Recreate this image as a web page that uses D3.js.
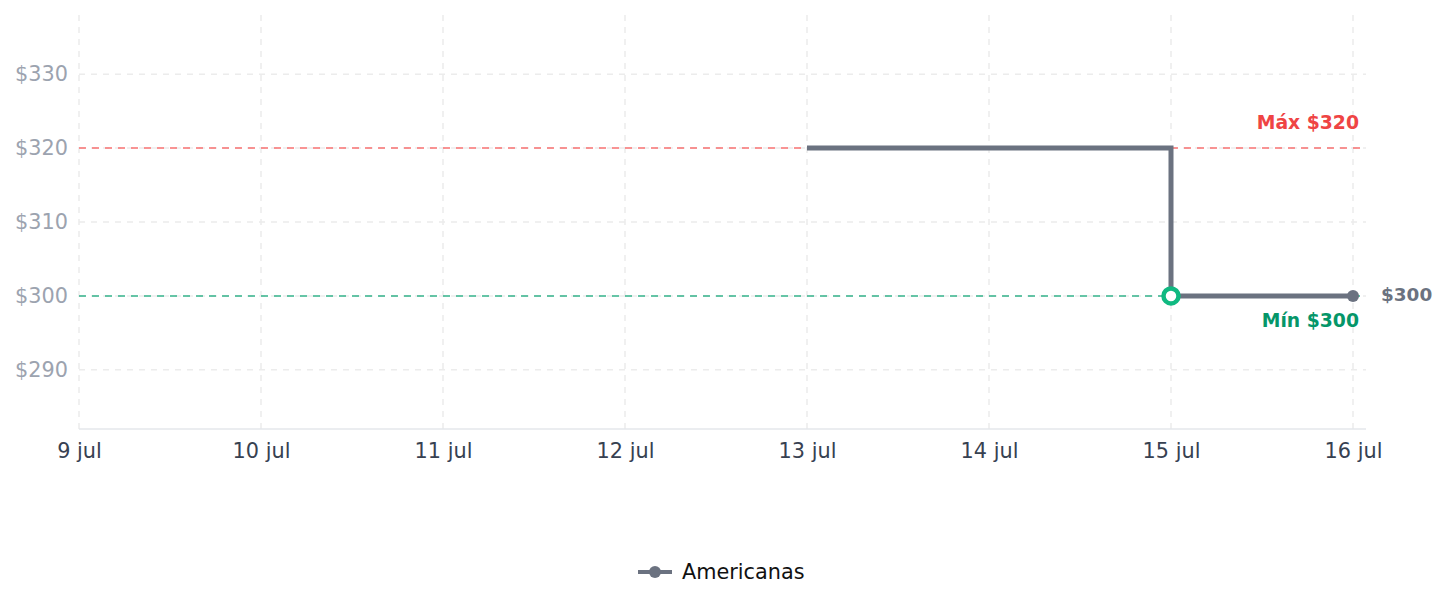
<!DOCTYPE html>
<html>
<head>
<meta charset="utf-8">
<script src="https://cdn.jsdelivr.net/npm/d3@7"></script>
<style>
  body { margin: 0; background: #fff; font-family: "DejaVu Sans", sans-serif; }
</style>
</head>
<body>
<svg id="chart" width="1447" height="607"></svg>
<script>
// data
const dates = ["2024-07-13", "2024-07-15", "2024-07-16"];
const prices = [320, 300, 300];
const yTicks = [290, 300, 310, 320, 330];
const seriesName = "Americanas";
const maxPrice = 320;
const minPrice = 300;

const parse = d3.timeParse("%Y-%m-%d");
const points = dates.map((d, i) => ({ date: parse(d), price: prices[i] }));
const months = ["jan","fev","mar","abr","mai","jun","jul","ago","set","out","nov","dez"];

const svg = d3.select("#chart");
const plotLeft = 79, plotRight = 1366, plotTop = 15, plotBottom = 429;

const x = d3.scaleTime()
  .domain([parse("2024-07-09"), parse("2024-07-16")])
  .range([plotLeft, 1353]);

const y = d3.scaleLinear()
  .domain([282, 338])
  .range([plotBottom, plotTop]);

const xTicks = d3.timeDay.range(parse("2024-07-09"), d3.timeDay.offset(parse("2024-07-16"), 1));

// grid
svg.append("g").selectAll("line")
  .data(yTicks)
  .enter().append("line")
  .attr("x1", plotLeft).attr("x2", plotRight)
  .attr("y1", d => y(d)).attr("y2", d => y(d))
  .attr("stroke", "#ececec")
  .attr("stroke-width", 1.5)
  .attr("stroke-dasharray", "6,6");

svg.append("g").selectAll("line")
  .data(xTicks)
  .enter().append("line")
  .attr("x1", d => x(d)).attr("x2", d => x(d))
  .attr("y1", plotTop).attr("y2", plotBottom)
  .attr("stroke", "#ececec")
  .attr("stroke-width", 1.5)
  .attr("stroke-dasharray", "6,6");

// axes
const yAxis = svg.append("g")
  .attr("transform", `translate(${plotLeft},0)`)
  .call(d3.axisLeft(y).tickValues(yTicks).tickSize(0).tickPadding(11).tickFormat(d => "$" + d));
yAxis.select(".domain").remove();
yAxis.selectAll("text")
  .attr("fill", "#9ca3af")
  .style("font-size", "20.8px")
  .style("font-family", "DejaVu Sans, sans-serif");

const xAxis = svg.append("g")
  .attr("transform", `translate(0,${plotBottom})`)
  .call(d3.axisBottom(x).tickValues(xTicks).tickSize(0).tickPadding(14)
    .tickFormat(d => d.getDate() + " " + months[d.getMonth()]));
xAxis.select(".domain").remove();
xAxis.selectAll("text")
  .attr("fill", "#374151")
  .style("font-size", "20.8px")
  .style("font-family", "DejaVu Sans, sans-serif");

svg.append("line")
  .attr("x1", plotLeft).attr("x2", plotRight)
  .attr("y1", plotBottom).attr("y2", plotBottom)
  .attr("stroke", "#e5e7eb")
  .attr("stroke-width", 1.5);

// max / min reference lines
svg.append("line")
  .attr("x1", plotLeft).attr("x2", plotRight)
  .attr("y1", y(maxPrice)).attr("y2", y(maxPrice))
  .attr("stroke", "#f87171")
  .attr("stroke-width", 1.5)
  .attr("stroke-dasharray", "7,6");

svg.append("line")
  .attr("x1", plotLeft).attr("x2", plotRight)
  .attr("y1", y(minPrice)).attr("y2", y(minPrice))
  .attr("stroke", "#34b38a")
  .attr("stroke-width", 1.5)
  .attr("stroke-dasharray", "7,6");

svg.append("text")
  .attr("x", 1359).attr("y", y(maxPrice) - 19)
  .attr("text-anchor", "end")
  .attr("fill", "#ef4444")
  .style("font-size", "18.8px")
  .style("font-weight", "bold")
  .text("Máx $" + maxPrice);

svg.append("text")
  .attr("x", 1359).attr("y", y(minPrice) + 31)
  .attr("text-anchor", "end")
  .attr("fill", "#059669")
  .style("font-size", "18.8px")
  .style("font-weight", "bold")
  .text("Mín $" + minPrice);

// price line
const line = d3.line()
  .x(d => x(d.date))
  .y(d => y(d.price))
  .curve(d3.curveStepAfter);

svg.append("path")
  .datum(points)
  .attr("d", line)
  .attr("fill", "none")
  .attr("stroke", "#6b7280")
  .attr("stroke-width", 5);

const last = points[points.length - 1];
svg.append("circle")
  .attr("cx", x(last.date)).attr("cy", y(last.price))
  .attr("r", 6)
  .attr("fill", "#6b7280");

svg.append("text")
  .attr("x", x(last.date) + 28).attr("y", y(last.price))
  .attr("dy", "0.3em")
  .attr("fill", "#6b7280")
  .style("font-size", "18.4px")
  .style("font-weight", "bold")
  .text("$" + last.price);

const minPoint = points.find(d => d.price === minPrice);
svg.append("circle")
  .attr("cx", x(minPoint.date)).attr("cy", y(minPoint.price))
  .attr("r", 7.5)
  .attr("fill", "#fff")
  .attr("stroke", "#10b981")
  .attr("stroke-width", 4.5);

// legend
const lg = svg.append("g").attr("transform", "translate(638,572)");
lg.append("line").attr("x1", 0).attr("x2", 34).attr("y1", 0).attr("y2", 0)
  .attr("stroke", "#6b7280").attr("stroke-width", 4);
lg.append("circle").attr("cx", 17).attr("cy", 0).attr("r", 6).attr("fill", "#6b7280");
lg.append("text").attr("x", 44).attr("y", 0).attr("dy", "0.35em")
  .attr("fill", "#111")
  .style("font-size", "20.8px")
  .text(seriesName);
</script>
</body>
</html>
